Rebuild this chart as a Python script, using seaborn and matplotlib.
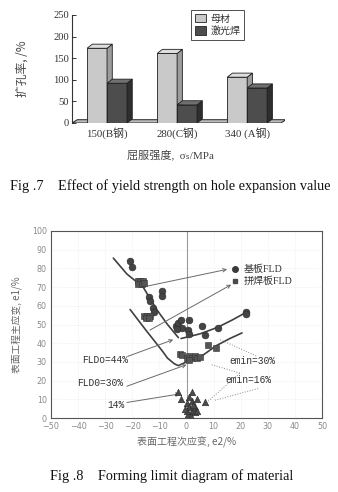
import numpy as np
import pandas as pd
import matplotlib
matplotlib.use("Agg")
import matplotlib.pyplot as plt
from matplotlib.patches import Polygon, Patch
from matplotlib.lines import Line2D
import seaborn as sns

# ---------------- data: Fig.7 ----------------
groups = ["150(B钢)", "280(C钢)", "340 (A钢)"]
materials = ["母材", "激光焊"]
base_values = [173, 161, 106]
laser_values = [92, 42, 81]
bar_colors = {"母材": "#c9c9c9", "激光焊": "#4d4d4d"}

# ---------------- data: Fig.8 ----------------
circle_x = [-21, -20, -9, -9, -14, -13.5, -12.3, -12, -4, -3, -2, -1.5, -3.5, 1, 0.7, 1, 5.6, 6.8, 11.7, 22, 22]
circle_y = [84, 81, 68, 65, 64.5, 62.5, 59, 56.5, 49, 51, 52.5, 48, 47.5, 52.5, 47, 45, 49, 44.5, 48, 56.5, 55.5]
square_x = [-18, -17, -16, -18, -16.5, -15.5, -15.5, -14.5, -13.5, -15, -14, -2.5, -1.5, 0, 1, 2, 3, 4, 1, 5, 8, 11]
square_y = [73, 73, 73, 71.5, 71.5, 72, 54.5, 54.5, 54.5, 53.5, 53.5, 34, 33.5, 32, 33, 32, 33, 32, 31, 32.5, 39, 37.5]
tri_x = [-3, -2, 2, 7, 0, 1, 2, 0.5, 1.5, 3, 4, 0, 2, 3, -0.5, 4, 1, 2.5]
tri_y = [14, 10, 14, 8.3, 8, 6, 4, 2, 1, 6, 10, 4, 9, 3, 5, 4, 11, 7]

fld44_left_x = [-27, -22, -16, -11, -7, -3]
fld44_left_y = [85.5, 77, 70, 58, 50, 43]
fld44_right_x = [-2, 5, 11.5, 17, 22]
fld44_right_y = [42.5, 45, 48.5, 52.5, 56.5]
fld30_x = [-20.8, -15, -12, -9, -7, -4.5, -3, 0, 5, 11, 16, 20.5]
fld30_y = [58, 47, 41.5, 36, 32, 29, 28, 30, 32.5, 38.7, 42.5, 45.5]

legend_labels = ["基板FLD", "拼焊板FLD"]

# ---------------- style ----------------
sns.set_theme(style="white")
plt.rcParams["font.family"] = ["Liberation Serif", "Noto Sans CJK SC", "DejaVu Sans"]
SERIF = ["Liberation Serif", "Noto Sans CJK SC", "DejaVu Sans"]
CJK = ["Noto Sans CJK SC", "DejaVu Sans"]
MONO = ["Liberation Mono", "DejaVu Sans Mono"]

W, H = 338, 492
fig = plt.figure(figsize=(W / 100, H / 100), dpi=100)
fig.patch.set_facecolor("white")

# =============== Fig.7 bar chart ===============
ax1 = fig.add_axes([72 / W, 1 - 123 / H, 213 / W, 108 / H])
df = pd.DataFrame({
    "group": groups * 2,
    "material": [materials[0]] * 3 + [materials[1]] * 3,
    "value": base_values + laser_values,
})
sns.barplot(data=df, x="group", y="value", hue="material", hue_order=materials,
            order=groups, palette=bar_colors, width=0.57, edgecolor="#1e1e1e",
            linewidth=0.6, legend=False, ax=ax1, saturation=1)
ax1.set_xlim(-0.5, 2.54)
ax1.set_ylim(0, 250)

dx, dy = 0.075, 9.5
side_col = {"light": "#9c9c9c", "dark": "#2e2e2e"}
top_col = {"light": "#dedede", "dark": "#707070"}
bars = sorted([p for p in ax1.patches], key=lambda p: p.get_x())
for i, p in enumerate(bars):
    x0, w, h = p.get_x(), p.get_width(), p.get_height()
    key = "light" if p.get_facecolor()[0] > 0.5 else "dark"
    p.set_zorder(3 + 3 * i)
    side = Polygon([(x0 + w, 0), (x0 + w + dx, dy), (x0 + w + dx, h + dy), (x0 + w, h)],
                   closed=True, facecolor=side_col[key], edgecolor="#1e1e1e", lw=0.6, zorder=4 + 3 * i)
    top = Polygon([(x0, h), (x0 + w, h), (x0 + w + dx, h + dy), (x0 + dx, h + dy)],
                  closed=True, facecolor=top_col[key], edgecolor="#1e1e1e", lw=0.6, zorder=5 + 3 * i)
    ax1.add_patch(side)
    ax1.add_patch(top)
floor = Polygon([(-0.5, 0), (2.48, 0), (2.48 + dx, dy * 0.8), (-0.5 + dx, dy * 0.8)],
                closed=True, facecolor="#bdbdbd", edgecolor="#222", lw=0.7, zorder=2)
ax1.add_patch(floor)

for s in ["top", "right", "bottom"]:
    ax1.spines[s].set_visible(False)
ax1.spines["left"].set_color("#333")
ax1.spines["left"].set_linewidth(0.8)
ax1.set_yticks([0, 50, 100, 150, 200, 250])
ax1.tick_params(axis="y", direction="in", length=3, width=0.7, labelsize=7.6,
                colors="#333", pad=2, left=True)
ax1.tick_params(axis="x", length=0, labelsize=7.8, colors="#333", pad=3)
for t in ax1.get_xticklabels() + ax1.get_yticklabels():
    t.set_family(SERIF)
ax1.set_xlabel("")
ax1.set_ylabel("扩孔率, /%", family=CJK, fontsize=8.5, color="#444", labelpad=18)
ax1.grid(False)
fig.text(170 / W, 1 - 155 / H, "屈服强度,  σₛ/MPa", family=SERIF, fontsize=8,
         color="#444", ha="center", va="center")
leg1 = ax1.legend(handles=[Patch(facecolor=bar_colors[m], edgecolor="#222", lw=0.6, label=m) for m in materials],
                  loc="upper left", bbox_to_anchor=(186 / W, 1 - 5 / H), bbox_transform=fig.transFigure,
                  frameon=True, fancybox=False, edgecolor="#222",
                  handlelength=1.1, handleheight=0.9, handletextpad=0.5, borderpad=0.35,
                  labelspacing=0.25, prop={"family": CJK, "size": 7.2})
leg1.get_frame().set_linewidth(0.7)
for t in leg1.get_texts():
    t.set_color("#333")

fig.text(170 / W, 1 - 186 / H, "Fig .7    Effect of yield strength on hole expansion value",
         family=SERIF, fontsize=10.3, color="#111", ha="center", va="center")

# =============== Fig.8 FLD ===============
ax2 = fig.add_axes([51 / W, 1 - 418 / H, 271 / W, 187 / H])
ax2.set_xlim(-50, 50)
ax2.set_ylim(0, 100)
ax2.set_xticks(np.arange(-50, 51, 10))
ax2.set_yticks(np.arange(0, 101, 10))
ax2.grid(True, color="#e6e6e6", lw=0.5, ls=":")
ax2.axvline(0, color="#9a9a9a", lw=0.8, zorder=1)

line_kw = dict(color="#404040", lw=1.2, sort=False, estimator=None, ax=ax2, legend=False)
sns.lineplot(x=fld44_left_x, y=fld44_left_y, **line_kw)
sns.lineplot(x=fld44_right_x, y=fld44_right_y, **line_kw)
sns.lineplot(x=fld30_x, y=fld30_y, **line_kw)

sns.scatterplot(x=circle_x, y=circle_y, marker="o", s=24, color="#444444",
                edgecolor="#2a2a2a", linewidth=0.4, ax=ax2, zorder=4)
sns.scatterplot(x=square_x, y=square_y, marker="s", s=22, color="#555555",
                edgecolor="#333", linewidth=0.4, ax=ax2, zorder=4)
sns.scatterplot(x=tri_x, y=tri_y, marker="^", s=22, color="#4a4a4a",
                edgecolor="#2a2a2a", linewidth=0.4, ax=ax2, zorder=4)

arrow_kw = dict(arrowstyle="->", color="#6a6a6a", lw=0.7, shrinkA=0, shrinkB=0, mutation_scale=6)
arrows = [((-14.6, 70.5), (15.0, 79.5)),
          ((-13.5, 47.0), (16.5, 71.3)),
          ((-21.6, 33.0), (-4.9, 41.9)),
          ((-22.0, 17.0), (0.0, 28.5)),
          ((-22.0, 8.3), (-2.4, 12.9))]
for start, end in arrows:
    ax2.annotate("", xy=end, xytext=start, arrowprops=arrow_kw)
dotted = [((12.4, 41.9), (26.0, 33.0)),
          ((9.3, 28.5), (19.7, 24.0)),
          ((8.0, 9.0), (19.7, 24.0)),
          ((10.5, 9.5), (27.0, 16.0))]
for (x0, y0), (x1, y1) in dotted:
    ax2.plot([x0, x1], [y0, y1], color="#8a8a8a", lw=0.7, ls=":", zorder=2)

txt_kw = dict(family=MONO, fontsize=6.9, color="#333", va="center")
ax2.text(-38.6, 31, "FLDo=44%", **txt_kw)
ax2.text(-40.4, 18.7, "FLD0=30%", **txt_kw)
ax2.text(-29.3, 7, "14%", **txt_kw)
ax2.text(16.0, 30.3, "emin=30%", **txt_kw)
ax2.text(14.2, 20.5, "emin=16%", **txt_kw)

handles = [Line2D([], [], marker="o", ls="", color="#3a3a3a", markersize=4),
           Line2D([], [], marker="s", ls="", color="#4a4a4a", markersize=3.3)]
leg2 = ax2.legend(handles=handles, labels=legend_labels, loc="upper left",
                  bbox_to_anchor=(0.645, 0.845), frameon=False, handlelength=0.8,
                  handletextpad=0.5, labelspacing=0.25, borderpad=0,
                  prop={"family": SERIF, "size": 7.2})
for t in leg2.get_texts():
    t.set_color("#333")

for s in ax2.spines.values():
    s.set_color("#555")
    s.set_linewidth(0.8)
ax2.tick_params(axis="both", length=0, labelsize=5.8, colors="#8a8a8a", pad=3)
for t in ax2.get_xticklabels() + ax2.get_yticklabels():
    t.set_family(["DejaVu Sans"])
ax2.set_xlabel("表面工程次应变, e2/%", family=CJK, fontsize=7.2, color="#666", labelpad=4)
ax2.set_ylabel("表面工程主应变, e1/%", family=CJK, fontsize=7.0, color="#666", labelpad=7)

fig.text(172 / W, 1 - 476 / H, "Fig .8    Forming limit diagram of material",
         family=SERIF, fontsize=10.3, color="#111", ha="center", va="center")

fig.savefig("out.png", dpi=100, facecolor="white")
